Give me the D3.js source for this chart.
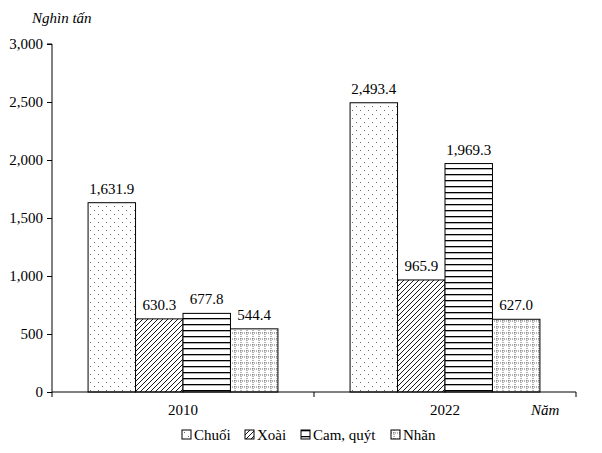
<!DOCTYPE html>
<html>
<head>
<meta charset="utf-8">
<script src="https://cdn.jsdelivr.net/npm/d3@7"></script>
<style>
body { margin: 0; background: #fff; }
svg text { font-family: "Liberation Serif", "Times New Roman", serif; fill: #000; }
</style>
</head>
<body>
<div id="chart"></div>
<script>
var years = ["2010", "2022"];
var fruits = ["Chuối", "Xoài", "Cam, quýt", "Nhãn"];
var values2010 = [1631.9, 630.3, 677.8, 544.4];
var values2022 = [2493.4, 965.9, 1969.3, 627.0];
var yTicks = [0, 500, 1000, 1500, 2000, 2500, 3000];

var width = 602, height = 453;
var margin = { left: 52, right: 26, top: 44, bottom: 61 };

var svg = d3.select("#chart").append("svg").attr("width", width).attr("height", height);
var defs = svg.append("defs");

// patterns for each fruit
var pDots = defs.append("pattern").attr("id", "p0").attr("patternUnits", "userSpaceOnUse").attr("width", 8).attr("height", 8);
pDots.append("rect").attr("width", 8).attr("height", 8).attr("fill", "#fff");
pDots.append("rect").attr("x", 2).attr("y", 2).attr("width", 1).attr("height", 1).attr("fill", "#666");
pDots.append("rect").attr("x", 6).attr("y", 6).attr("width", 1).attr("height", 1).attr("fill", "#666");

var pDiag = defs.append("pattern").attr("id", "p1").attr("patternUnits", "userSpaceOnUse").attr("width", 5).attr("height", 5);
pDiag.append("rect").attr("width", 5).attr("height", 5).attr("fill", "#fff");
pDiag.append("path").attr("d", "M-1,1 L1,-1 M0,5 L5,0 M4,6 L6,4").attr("stroke", "#000").attr("stroke-width", 0.9);

var pHor = defs.append("pattern").attr("id", "p2").attr("patternUnits", "userSpaceOnUse").attr("width", 6).attr("height", 6);
pHor.append("rect").attr("width", 6).attr("height", 6).attr("fill", "#fff");
pHor.append("rect").attr("y", 0).attr("width", 6).attr("height", 1.3).attr("fill", "#000");

var pGrid = defs.append("pattern").attr("id", "p3").attr("patternUnits", "userSpaceOnUse").attr("width", 6).attr("height", 6);
pGrid.append("rect").attr("width", 6).attr("height", 6).attr("fill", "#fff");
pGrid.append("path").attr("d", "M0,3 L6,3 M3,0 L3,6").attr("stroke", "#444").attr("stroke-width", 0.8).attr("stroke-dasharray", "1,1");

var x0 = d3.scaleBand().domain(years).range([margin.left, width - margin.right]).paddingInner(0).paddingOuter(0);
var x1 = d3.scaleBand().domain(fruits).range([0, x0.bandwidth()]).paddingInner(0).paddingOuter(0.76);
var y = d3.scaleLinear().domain([0, 3000]).range([height - margin.bottom, margin.top]);

var fmt = d3.format(",.1f");

var data = years.map(function(yr, i) {
    var vals = i === 0 ? values2010 : values2022;
    return { year: yr, items: fruits.map(function(f, j) { return { fruit: f, idx: j, value: vals[j] }; }) };
});

var groups = svg.selectAll(".grp").data(data).enter().append("g")
    .attr("transform", function(d) { return "translate(" + x0(d.year) + ",0)"; });

groups.selectAll("rect").data(function(d) { return d.items; }).enter().append("rect")
    .attr("x", function(d) { return x1(d.fruit); })
    .attr("y", function(d) { return y(d.value); })
    .attr("width", x1.bandwidth())
    .attr("height", function(d) { return y(0) - y(d.value); })
    .attr("fill", function(d) { return "url(#p" + d.idx + ")"; })
    .attr("stroke", "#000").attr("stroke-width", 1);

groups.selectAll(".lbl").data(function(d) { return d.items; }).enter().append("text")
    .attr("x", function(d) { return x1(d.fruit) + x1.bandwidth() / 2; })
    .attr("y", function(d) { return y(d.value) - 9; })
    .attr("text-anchor", "middle").style("font-size", "15px")
    .text(function(d) { return fmt(d.value); });

// y axis
var yAxis = svg.append("g").attr("transform", "translate(" + margin.left + ",0)")
    .call(d3.axisLeft(y).tickValues(yTicks).tickSize(5).tickFormat(d3.format(",")));
yAxis.attr("font-family", null);
yAxis.selectAll("text").style("font-size", "15px").attr("x", -9);
yAxis.select(".domain").attr("d", "M-5," + y(3000) + "H0V" + y(0));

// x axis
var xAxis = svg.append("g").attr("transform", "translate(0," + y(0) + ")");
xAxis.append("line").attr("x1", margin.left).attr("x2", width - margin.right).attr("stroke", "#000");
var bounds = [margin.left, x0(years[1]), width - margin.right];
xAxis.selectAll(".tk").data(bounds).enter().append("line")
    .attr("x1", function(d) { return d; }).attr("x2", function(d) { return d; })
    .attr("y1", 0).attr("y2", 5).attr("stroke", "#000");
xAxis.selectAll(".xl").data(years).enter().append("text")
    .attr("x", function(d) { return x0(d) + x0.bandwidth() / 2; })
    .attr("y", 23).attr("text-anchor", "middle").style("font-size", "15px")
    .text(function(d) { return d; });

svg.append("text").attr("x", 32).attr("y", 23).style("font-size", "15px").style("font-style", "italic").text("Nghìn tấn");
svg.append("text").attr("x", 531).attr("y", 415).style("font-size", "15px").style("font-style", "italic").text("Năm");

// legend
var legendX = [182, 245, 301, 391];
var legend = svg.selectAll(".lg").data(fruits).enter().append("g")
    .attr("transform", function(d, i) { return "translate(" + legendX[i] + ",430)"; });
legend.append("rect").attr("width", 9).attr("height", 9)
    .attr("fill", function(d, i) { return "url(#p" + i + ")"; })
    .attr("stroke", "#000").attr("stroke-width", 1);
legend.append("text").attr("x", 12).attr("y", 10).style("font-size", "15px").text(function(d) { return d; });
</script>
</body>
</html>
